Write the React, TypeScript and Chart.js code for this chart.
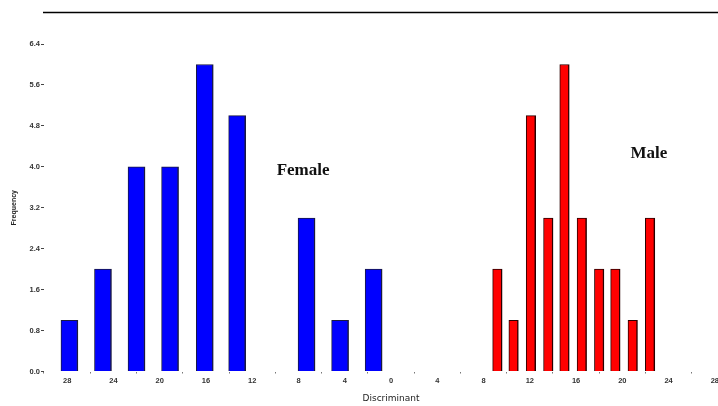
import { useEffect, useRef } from "react"
import { Chart, registerables } from "chart.js"

Chart.register(...registerables)

// discriminant score of each histogram bar (female scores are negative, drawn on the left)
const femaleScores = [-27.8, -24.9, -22.0, -19.1, -16.1, -13.3, -7.3, -4.4, -1.5]
const femaleCounts = [1, 2, 4, 4, 6, 5, 3, 1, 2]
const maleScores = [9.2, 10.6, 12.1, 13.6, 15.0, 16.5, 18.0, 19.4, 20.9, 22.4]
const maleCounts = [2, 1, 5, 3, 6, 3, 2, 2, 1, 3]

const xTickValues = [-28, -24, -20, -16, -12, -8, -4, 0, 4, 8, 12, 16, 20, 24, 28]
const yTickValues = [0, 0.8, 1.6, 2.4, 3.2, 4.0, 4.8, 5.6, 6.4]
const groupNames = ["Female", "Male"]

// where each group name sits, in data units
const nameAnchors: [number, number][] = [
  [-7.6, 3.84],
  [22.3, 4.17],
]

const decorations = {
  id: "decorations",
  afterDraw(chart: Chart) {
    const { ctx, chartArea, scales } = chart
    ctx.save()
    // thin frame line across the top
    ctx.strokeStyle = "#000"
    ctx.lineWidth = 1.5
    ctx.beginPath()
    ctx.moveTo(chartArea.left - 1, 12.5)
    ctx.lineTo(chart.width, 12.5)
    ctx.stroke()

    ctx.font = "bold 17px 'Liberation Serif'"
    ctx.fillStyle = "#111"
    ctx.textAlign = "center"
    ctx.textBaseline = "alphabetic"
    groupNames.forEach((name, i) => {
      const [vx, vy] = nameAnchors[i]
      ctx.fillText(name, scales.x.getPixelForValue(vx), scales.y.getPixelForValue(vy))
    })
    ctx.restore()
  },
}

export default function App() {
  const chartRef = useRef<HTMLCanvasElement>(null)
  const chartInstance = useRef<Chart | null>(null)

  useEffect(() => {
    if (!chartRef.current) return
    if (chartInstance.current) chartInstance.current.destroy()

    const ctx = chartRef.current.getContext("2d")
    if (!ctx) return

    const tickFont = { family: "'Liberation Sans'", size: 7.5, weight: "bold" as const }
    const barBorder = { top: 1, left: 1, right: 1.5, bottom: 0 }

    chartInstance.current = new Chart(ctx, {
      type: "bar",
      data: {
        datasets: [
          {
            label: "Female",
            data: femaleScores.map((x, i) => ({ x, y: femaleCounts[i] })),
            backgroundColor: "#0000ff",
            borderColor: "#1a1a40",
            borderWidth: barBorder,
            borderSkipped: false,
            barThickness: 17,
          },
          {
            label: "Male",
            data: maleScores.map((x, i) => ({ x, y: maleCounts[i] })),
            backgroundColor: "#ff0000",
            borderColor: "#2a0000",
            borderWidth: barBorder,
            borderSkipped: false,
            barThickness: 9.5,
          },
        ],
      },
      options: {
        animation: false,
        responsive: true,
        maintainAspectRatio: false,
        layout: { padding: { top: 44, right: 12, bottom: 0, left: 0 } },
        datasets: { bar: { grouped: false } },
        plugins: {
          legend: { display: false },
          tooltip: { enabled: false },
        },
        scales: {
          x: {
            type: "linear",
            offset: false,
            min: -30,
            max: 30,
            afterBuildTicks: (scale) => {
              scale.ticks = xTickValues.map((value) => ({ value }))
            },
            afterFit: (scale) => {
              scale.height = 34.5
            },
            grid: { drawOnChartArea: false, drawTicks: true, tickLength: 2, color: "#777" },
            border: { display: false },
            ticks: {
              autoSkip: false,
              maxRotation: 0,
              padding: 3,
              color: "#333",
              font: tickFont,
              callback: (value) => String(Math.abs(Number(value))),
            },
            title: {
              display: true,
              text: "Discriminant",
              color: "#222",
              font: { family: "'DejaVu Sans'", size: 9 },
              padding: { top: 2, bottom: 2 },
            },
          },
          y: {
            min: 0,
            max: 6.4,
            afterBuildTicks: (scale) => {
              scale.ticks = yTickValues.map((value) => ({ value }))
            },
            afterFit: (scale) => {
              scale.width = 44
            },
            grid: { drawOnChartArea: false, drawTicks: true, tickLength: 3, color: "#444" },
            border: { display: false },
            ticks: {
              padding: 1,
              color: "#333",
              font: tickFont,
              callback: (value) => Number(value).toFixed(1),
            },
            title: {
              display: true,
              text: "Frequency",
              color: "#222",
              font: { family: "'Liberation Sans'", size: 7, weight: "bold" },
              padding: { top: 10, bottom: 0 },
            },
          },
        },
      },
      plugins: [decorations],
    })

    return () => {
      if (chartInstance.current) {
        chartInstance.current.destroy()
        chartInstance.current = null
      }
    }
  }, [])

  return (
    <div style={{ position: "absolute", left: 0, top: 0, width: 718, height: 406, overflow: "hidden", background: "#fff" }}>
      <div style={{ position: "relative", width: 750, height: 406 }}>
        <canvas ref={chartRef} />
      </div>
    </div>
  )
}
